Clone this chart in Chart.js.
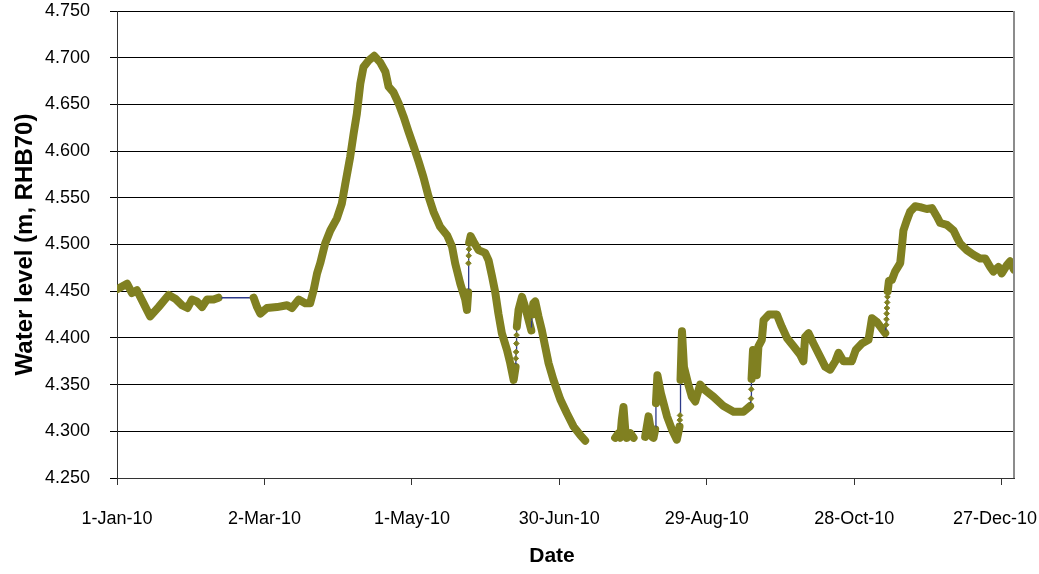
<!DOCTYPE html>
<html>
<head>
<meta charset="utf-8">
<script src="https://cdn.jsdelivr.net/npm/chart.js@4"></script>
<style>
  html, body { margin: 0; padding: 0; background: #fff; }
  #wrap { width: 1039px; height: 574px; }
</style>
</head>
<body>
<div id="wrap"><canvas id="c" width="1039" height="574"></canvas></div>
<script>
// Water level record for 2010, x = day of year (0 = 1 Jan 2010), y = level in m RHB70.
// A null level marks a gap in the record.
const days = [
  0, 4.1, 6.1, 8.1, 10.8, 13.5, 16.9, 21.0, 23.7, 26.4, 28.7, 30.5, 32.5, 34.6, 36.6, 39.3, 41.3,
  55.6, 57.0, 58.3, 61.0, 65.1, 69.2, 71.2, 73.9, 76.6, 78.6, 80.0, 81.4, 82.7, 84.7, 86.8, 89.5,
  91.5, 92.9, 94.9, 96.3, 97.6, 99.0, 100.3, 102.4, 104.7, 107.1, 109.2, 110.5, 112.5, 114.6, 116.6,
  118.6, 120.7, 122.7, 124.7, 126.8, 128.8, 131.5, 134.3, 136.3, 137.6, 139.7, 141.7, 142.4, 142.9,
  143.0, 143.1, 143.2, 143.3, 143.9, 145.1, 147.1, 149.8, 151.2, 152.6, 153.9, 155.2, 156.6, 158.7,
  160.0, 161.4, 162.2, 162.3, 162.4, 162.5, 162.6, 162.7, 163.4, 164.8, 166.1, 167.5, 168.6, 168.9,
  169.4, 170.2, 171.5, 172.9, 174.2, 175.6, 177.6, 180.4, 183.1, 185.8, 188.5, 190.5,
  196,
  202.7, 204.1, 204.8, 205.4, 206.1, 206.8, 207.5, 208.9, 210.2,
  212,
  214.9, 215.6, 216.3, 217.0, 217.7, 218.3, 219.0, 219.3, 219.9, 221.3, 222.4, 223.8, 225.8, 227.8,
  228.9, 229.0, 229.1, 229.3, 229.9, 230.7, 232.5, 233.9, 235.3, 237.3, 239.3, 242.7, 246.8, 250.9,
  254.9, 257.6, 258.0, 258.1, 258.2, 258.8, 259.7, 260.3, 261.0, 262.4, 263.1, 265.3, 268.5, 270.5,
  272.6, 275.3, 278.0, 279.3, 280.0, 281.4, 283.4, 286.1, 288.2, 290.2, 292.3, 293.6, 295.6, 299.0,
  300.6, 303.1, 305.8, 307.2, 309.2, 311.2, 312.6, 313.0, 313.1, 313.2, 313.3, 313.4, 313.5, 313.6,
  314.1, 315.3, 316.6, 318.7, 319.4, 320.0, 321.4, 322.7, 324.8, 326.8, 329.5, 331.6, 333.6, 335.0,
  337.7, 340.4, 341.7, 343.1, 345.8, 348.5, 351.2, 353.3, 355.3, 356.6, 358.7, 360.0, 362.1, 363.4,
  365.0
];
const levels = [
  4.452, 4.458, 4.448, 4.451, 4.437, 4.423, 4.433, 4.446, 4.442, 4.435, 4.432, 4.441, 4.439, 4.433, 4.441, 4.441, 4.443,
  4.443, 4.433, 4.426, 4.432, 4.433, 4.435, 4.432, 4.441, 4.437, 4.437, 4.451, 4.469, 4.480, 4.501, 4.515, 4.528,
  4.544, 4.565, 4.594, 4.619, 4.640, 4.672, 4.690, 4.697, 4.702, 4.695, 4.685, 4.669, 4.663, 4.651, 4.637,
  4.621, 4.605, 4.589, 4.572, 4.551, 4.535, 4.519, 4.510, 4.498, 4.480, 4.458, 4.441, 4.430, 4.449,
  4.480, 4.488, 4.495, 4.502, 4.509, 4.503, 4.494, 4.491, 4.483, 4.466, 4.449, 4.426, 4.405, 4.387,
  4.373, 4.355, 4.369, 4.378, 4.385, 4.394, 4.403, 4.412, 4.430, 4.444, 4.433, 4.419, 4.408, 4.425,
  4.437, 4.439, 4.423, 4.408, 4.391, 4.373, 4.355, 4.334, 4.319, 4.305, 4.296, 4.290,
  null,
  4.293, 4.298, 4.293, 4.312, 4.326, 4.302, 4.293, 4.298, 4.293,
  null,
  4.294, 4.305, 4.316, 4.305, 4.294, 4.293, 4.302, 4.330, 4.360, 4.341, 4.330, 4.316, 4.302, 4.291,
  4.305, 4.312, 4.317, 4.355, 4.407, 4.369, 4.350, 4.337, 4.332, 4.350, 4.344, 4.337, 4.327, 4.321,
  4.321, 4.327, 4.335, 4.345, 4.356, 4.387, 4.372, 4.360, 4.391, 4.398, 4.419, 4.425, 4.425, 4.412,
  4.400, 4.391, 4.382, 4.375, 4.401, 4.405, 4.394, 4.380, 4.369, 4.366, 4.375, 4.384, 4.375, 4.375,
  4.387, 4.394, 4.398, 4.421, 4.417, 4.410, 4.405, 4.414, 4.420, 4.426, 4.432, 4.438, 4.444, 4.450,
  4.461, 4.462, 4.471, 4.480, 4.498, 4.515, 4.526, 4.535, 4.541, 4.540, 4.538, 4.539, 4.530, 4.523,
  4.521, 4.515, 4.508, 4.501, 4.494, 4.489, 4.485, 4.485, 4.476, 4.471, 4.476, 4.469, 4.478, 4.482,
  4.473
];

// Axis ticks
const tickDays = [0, 60, 120, 180, 240, 300, 360];
const tickLabels = ['1-Jan-10', '2-Mar-10', '1-May-10', '30-Jun-10', '29-Aug-10', '28-Oct-10', '27-Dec-10'];
const levelTicks = [4.25, 4.30, 4.35, 4.40, 4.45, 4.50, 4.55, 4.60, 4.65, 4.70, 4.75];

const FONT = '"Liberation Sans", Arial, sans-serif';
const OLIVE = '#808021';
const NAVY = '#2d3a8a';

const points = days.map((d, i) => ({ x: d, y: levels[i] }));

// Readings that follow each other within a few hours (fast jumps) or across a
// long hole in the record are joined by the thin connector line only.
function isConnector(ctx) {
  const dx = ctx.p1.parsed.x - ctx.p0.parsed.x;
  return dx < 0.45 || dx > 5;
}

// Gray right edge of the plot frame
const frame = {
  id: 'frame',
  afterDraw(chart) {
    const { ctx, chartArea: a } = chart;
    ctx.save();
    ctx.strokeStyle = '#8c8c8c';
    ctx.lineWidth = 2;
    ctx.beginPath();
    ctx.moveTo(a.right, a.top);
    ctx.lineTo(a.right, a.bottom);
    ctx.stroke();
    ctx.restore();
  }
};

// Keep the last date label inside the canvas
const keepLabelsInside = {
  id: 'keepLabelsInside',
  beforeDraw(chart) {
    const sx = chart.scales.x;
    const items = sx.getLabelItems();
    if (!items.length) return;
    const it = items[items.length - 1];
    const ctx = chart.ctx;
    ctx.save();
    ctx.font = it.font.string;
    const w = ctx.measureText(String(it.label)).width;
    ctx.restore();
    const maxX = chart.width - 2 - w / 2;
    if (it.options.translation[0] > maxX) it.options.translation[0] = maxX;
  }
};

// Horizontal axis title
const dateTitle = {
  id: 'dateTitle',
  afterDraw(chart) {
    const ctx = chart.ctx;
    ctx.save();
    ctx.font = 'bold 21px ' + FONT;
    ctx.fillStyle = '#000';
    ctx.textAlign = 'center';
    ctx.textBaseline = 'alphabetic';
    ctx.fillText('Date', 552, 562);
    ctx.restore();
  }
};

new Chart(document.getElementById('c'), {
  type: 'line',
  data: {
    datasets: [{
      data: points,
      borderColor: OLIVE,
      borderWidth: 8,
      borderJoinStyle: 'round',
      borderCapStyle: 'round',
      tension: 0,
      spanGaps: false,
      pointStyle: 'rectRot',
      pointRadius: 2.8,
      pointBackgroundColor: OLIVE,
      pointBorderColor: OLIVE,
      pointBorderWidth: 1,
      segment: {
        borderColor: c => isConnector(c) ? NAVY : OLIVE,
        borderWidth: c => isConnector(c) ? 1.3 : 8
      }
    }]
  },
  options: {
    responsive: false,
    animation: false,
    events: [],
    layout: { padding: { top: 11, right: 25, bottom: 0, left: 0 } },
    plugins: { legend: { display: false }, tooltip: { enabled: false } },
    scales: {
      x: {
        type: 'linear',
        min: 0,
        max: 365,
        afterBuildTicks: s => { s.ticks = tickDays.map(v => ({ value: v })); },
        afterFit: s => { s.height = 96; s.paddingLeft = 0; s.paddingRight = 0; },
        ticks: {
          callback: (v, i) => tickLabels[i],
          font: { family: FONT, size: 18 },
          color: '#000',
          padding: 23,
          maxRotation: 0,
          autoSkip: false
        },
        grid: { drawOnChartArea: false, drawTicks: true, tickLength: 7, color: '#333' },
        border: { color: '#333', width: 1 }
      },
      y: {
        min: 4.25,
        max: 4.75,
        afterBuildTicks: s => { s.ticks = levelTicks.map(v => ({ value: v })); },
        afterFit: s => { s.width = 117; s.paddingTop = 0; s.paddingBottom = 0; },
        ticks: {
          callback: v => Number(v).toFixed(3),
          font: { family: FONT, size: 18 },
          color: '#000',
          padding: 20
        },
        grid: { color: '#000', tickLength: 7, lineWidth: 1 },
        border: { color: '#333', width: 1 },
        title: {
          display: true,
          text: 'Water level (m, RHB70)',
          font: { family: FONT, size: 24, weight: 'bold' },
          color: '#000',
          padding: { top: 11, bottom: 0 }
        }
      }
    }
  },
  plugins: [keepLabelsInside, frame, dateTitle]
});
</script>
</body>
</html>
